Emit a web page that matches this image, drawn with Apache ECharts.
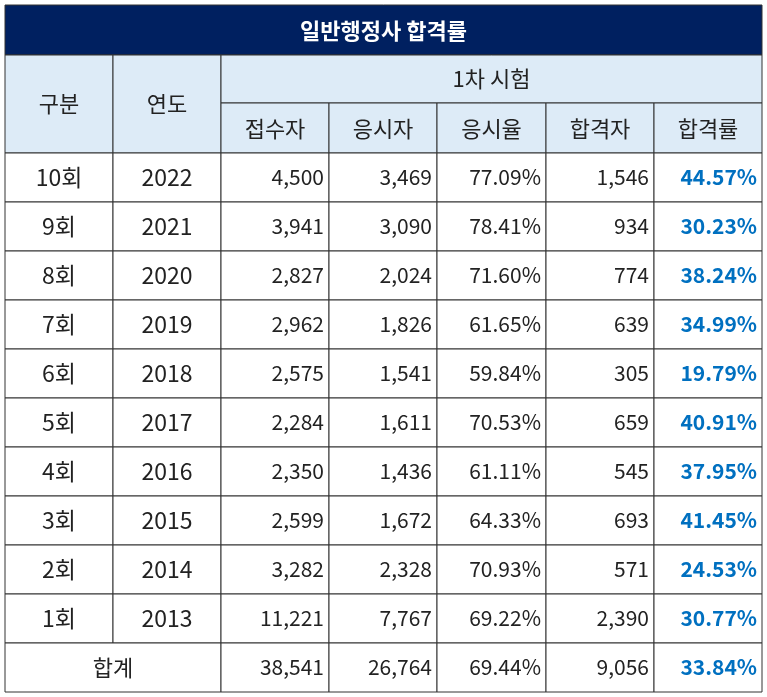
<!DOCTYPE html>
<html><head><meta charset="utf-8">
<script src="https://cdn.jsdelivr.net/npm/echarts@6/dist/echarts.min.js"></script>
<style>html,body{margin:0;padding:0;background:#fff}#c{width:767px;height:697px}</style>
</head><body><div id="c"></div>
<script>
const title = '일반행정사 합격률';
const groupHeader = '1차 시험';
const headers = ['구분','연도','접수자','응시자','응시율','합격자','합격률'];
const rounds = ['10회','9회','8회','7회','6회','5회','4회','3회','2회','1회'];
const years = ['2022','2021','2020','2019','2018','2017','2016','2015','2014','2013'];
const applicants = ['4,500','3,941','2,827','2,962','2,575','2,284','2,350','2,599','3,282','11,221'];
const takers = ['3,469','3,090','2,024','1,826','1,541','1,611','1,436','1,672','2,328','7,767'];
const takeRate = ['77.09%','78.41%','71.60%','61.65%','59.84%','70.53%','61.11%','64.33%','70.93%','69.22%'];
const passers = ['1,546','934','774','639','305','659','545','693','571','2,390'];
const passRate = ['44.57%','30.23%','38.24%','34.99%','19.79%','40.91%','37.95%','41.45%','24.53%','30.77%'];
const totalLabel = '합계';
const totals = ['38,541','26,764','69.44%','9,056','33.84%'];

const colX = [5,113,221,329,437,546,654,762];
const x0=5,x1=762, yTitle=5, yH1=55, yH2=103, yData=153, rowH=49, yEnd=692;
const font = '"Noto Sans CJK KR","Noto Sans",sans-serif';
const g = [];
function rect(x,y,w,h,fill){g.push({type:'rect',shape:{x,y,width:w,height:h},style:{fill,stroke:'#333',lineWidth:1}});}
function txt(t,x,y,align,opt){g.push({type:'text',x,y,style:Object.assign({text:t,fill:'#222',font:'21px '+font,align,verticalAlign:'middle'},opt||{})});}
rect(x0,yTitle,x1-x0,yH1-yTitle,'#002060');
txt(title,(x0+x1)/2,(yTitle+yH1)/2+1,'center',{fill:'#fff',font:'bold 22px '+font});
rect(colX[0],yH1,colX[1]-colX[0],yData-yH1,'#ddebf7');
rect(colX[1],yH1,colX[2]-colX[1],yData-yH1,'#ddebf7');
rect(colX[2],yH1,x1-colX[2],yH2-yH1,'#ddebf7');
for(let i=2;i<7;i++) rect(colX[i],yH2,colX[i+1]-colX[i],yData-yH2,'#ddebf7');
txt(headers[0],(colX[0]+colX[1])/2,(yH1+yData)/2,'center',{font:'22px '+font});
txt(headers[1],(colX[1]+colX[2])/2,(yH1+yData)/2,'center',{font:'22px '+font});
txt(groupHeader,(colX[2]+x1)/2,(yH1+yH2)/2,'center',{font:'22px '+font});
for(let i=2;i<7;i++) txt(headers[i],(colX[i]+colX[i+1])/2,(yH2+yData)/2+1,'center',{font:'22px '+font});
const cols=[applicants,takers,takeRate,passers,passRate];
const rateStyle={fill:'#0070c0',font:'bold 21px '+font};
rounds.forEach((r,k)=>{
  const y=yData+k*rowH, cy=y+rowH/2;
  for(let i=0;i<7;i++) rect(colX[i],y,colX[i+1]-colX[i],rowH,'#fff');
  txt(r,(colX[0]+colX[1])/2,cy,'center',{font:'23px '+font});
  txt(years[k],(colX[1]+colX[2])/2,cy,'center',{font:'23px '+font});
  cols.forEach((c,j)=>txt(c[k],colX[j+3]-5,cy,'right',j===4?rateStyle:{}));
});
const yt=yData+10*rowH, cyt=(yt+yEnd)/2;
rect(colX[0],yt,colX[2]-colX[0],yEnd-yt,'#fff');
for(let i=2;i<7;i++) rect(colX[i],yt,colX[i+1]-colX[i],yEnd-yt,'#fff');
txt(totalLabel,(colX[0]+colX[2])/2,cyt,'center',{font:'22px '+font});
totals.forEach((t,j)=>txt(t,colX[j+3]-5,cyt,'right',j===4?rateStyle:{}));

const chart=echarts.init(document.getElementById('c'));
chart.setOption({animation:false,graphic:{elements:g}});
</script></body></html>
